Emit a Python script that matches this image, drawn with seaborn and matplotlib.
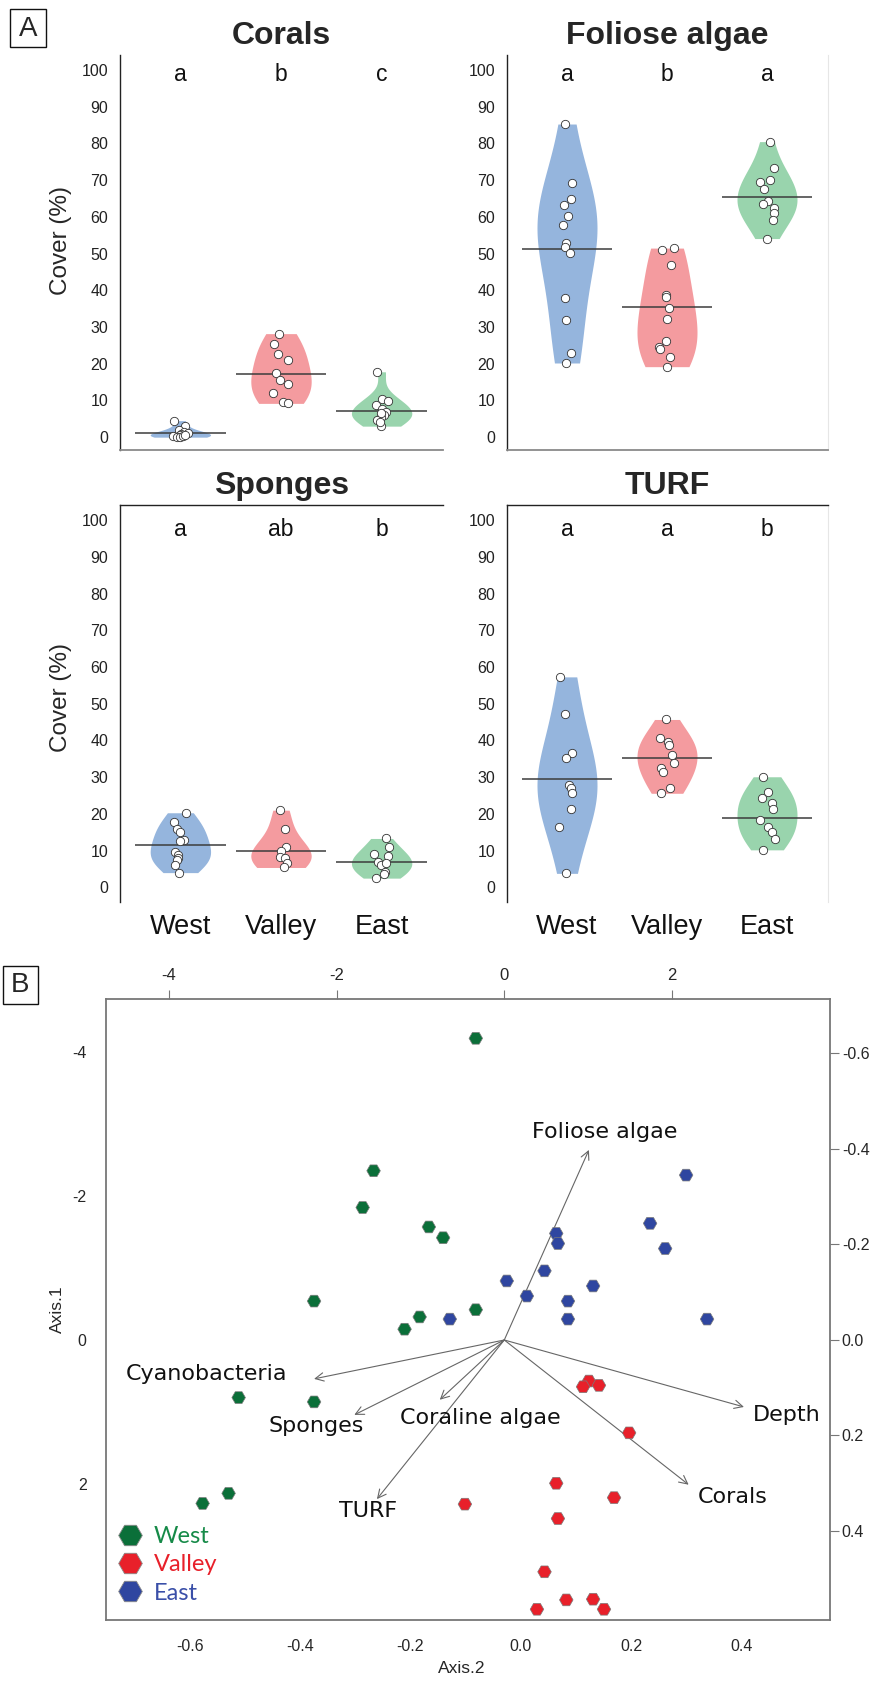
import numpy as np
import pandas as pd
import matplotlib.pyplot as plt
from matplotlib.lines import Line2D
from matplotlib.patches import Rectangle
from matplotlib.ticker import FormatStrFormatter
import seaborn as sns

# ---- panel A data (cover %) ----
sites = ['West', 'Valley', 'East']

corals_west = [4.5, 3.0, 2.0, 1.5, 1.0, 0.8, 0.5, 0.3, 0.0, 0.0, 0.2, 0.6]
corals_valley = [28.2, 25.3, 22.6, 21.0, 17.5, 15.5, 14.6, 11.9, 9.6, 9.2]
corals_east = [17.8, 10.5, 9.8, 8.7, 7.6, 6.9, 6.0, 5.4, 4.6, 3.0, 4.2, 6.5]
corals_mean = [1.2, 17.3, 7.1]
corals_letters = ['a', 'b', 'c']

foliose_west = [85.3, 69.1, 64.9, 63.2, 60.2, 57.8, 53.0, 51.9, 50.1, 38.0, 31.9, 22.8, 20.2]
foliose_valley = [51.5, 51.0, 47.0, 38.7, 38.2, 35.1, 32.1, 26.2, 24.6, 24.0, 21.7, 19.2]
foliose_east = [80.5, 73.2, 70.0, 69.5, 67.5, 64.3, 63.5, 62.3, 61.0, 59.1, 54.1]
foliose_mean = [51.2, 35.4, 65.3]
foliose_letters = ['a', 'b', 'a']

sponges_west = [20.3, 17.9, 16.0, 15.0, 12.9, 12.5, 9.7, 8.9, 7.9, 7.5, 6.1, 4.0]
sponges_valley = [21.0, 15.8, 11.0, 10.0, 8.3, 8.0, 6.5, 5.4]
sponges_east = [13.3, 11.0, 9.2, 8.5, 7.0, 6.1, 6.5, 4.3, 2.5, 3.5]
sponges_mean = [11.5, 10.0, 7.0]
sponges_letters = ['a', 'ab', 'b']

turf_west = [57.3, 47.2, 36.5, 35.3, 27.9, 27.0, 25.6, 21.2, 16.5, 3.8]
turf_valley = [45.7, 40.6, 39.5, 38.7, 36.0, 33.8, 32.4, 31.5, 27.0, 25.6]
turf_east = [30.1, 26.0, 24.2, 22.9, 21.2, 18.3, 16.5, 15.1, 13.1, 10.2]
turf_mean = [29.5, 35.1, 19.0]
turf_letters = ['a', 'a', 'b']

# ---- panel B data (ordination scores and vectors) ----
west_x = [-0.34, -1.56, -1.69, -0.90, -0.73, -2.27, -0.34, -1.01, -1.19, -3.17, -2.27, -3.29, -3.60]
west_y = [-4.19, -2.35, -1.84, -1.57, -1.42, -0.54, -0.42, -0.32, -0.15, 0.80, 0.86, 2.13, 2.27]
valley_x = [1.01, 0.94, 1.13, 1.49, 0.62, 1.31, -0.47, 0.64, 0.48, 0.74, 1.06, 0.39, 1.19]
valley_y = [0.57, 0.65, 0.63, 1.29, 1.99, 2.19, 2.28, 2.48, 3.22, 3.61, 3.60, 3.74, 3.74]
east_x = [0.03, 0.27, -0.65, 2.17, 1.74, 1.92, 0.62, 0.64, 0.48, 1.06, 0.76, 0.76, 2.42]
east_y = [-0.82, -0.61, -0.29, -2.29, -1.62, -1.27, -1.48, -1.34, -0.96, -0.75, -0.54, -0.29, -0.29]

vec_names = ['Foliose algae', 'Cyanobacteria', 'Sponges', 'Coraline algae', 'TURF', 'Depth', 'Corals']
vec_x = [1.01, -2.27, -1.79, -0.77, -1.52, 2.86, 2.20]
vec_y = [-2.64, 0.54, 1.04, 0.83, 2.21, 0.93, 2.01]
# where each vector label sits relative to its arrow tip
lab_dx = [0.19, -1.28, -0.45, 0.48, -0.10, 0.51, 0.53]
lab_dy = [-0.25, -0.07, 0.15, 0.25, 0.16, 0.11, 0.17]

sns.set_style('white')
plt.rcParams['font.family'] = ['Liberation Sans', 'DejaVu Sans']
plt.rcParams['axes.unicode_minus'] = False

violin_pal = {'West': '#95b5dd', 'Valley': '#f49b9f', 'East': '#99d4ad'}
pt_pal = {'West': '#0b6f39', 'Valley': '#e8202a', 'East': '#2f46a0'}
text_pal = ['#168a48', '#e8202a', '#3a4fa8']

W, H = 874, 1682
fig = plt.figure(figsize=(W / 100, H / 100), dpi=100)


def px_rect(l, t, r, b):
    return [l / W, 1 - b / H, (r - l) / W, (b - t) / H]


cover = {
    'Corals': [corals_west, corals_valley, corals_east],
    'Foliose algae': [foliose_west, foliose_valley, foliose_east],
    'Sponges': [sponges_west, sponges_valley, sponges_east],
    'TURF': [turf_west, turf_valley, turf_east],
}
rows = []
for grp, lists in cover.items():
    for site, vals in zip(sites, lists):
        for v in vals:
            rows.append((grp, site, v))
df = pd.DataFrame(rows, columns=['group', 'site', 'cover'])

panels = [
    ('Corals', corals_mean, corals_letters, px_rect(120, 55, 443, 450), 'top', 'left'),
    ('Foliose algae', foliose_mean, foliose_letters, px_rect(507, 55, 828, 450), 'top', 'right'),
    ('Sponges', sponges_mean, sponges_letters, px_rect(120, 505, 443, 902), 'bottom', 'left'),
    ('TURF', turf_mean, turf_letters, px_rect(507, 505, 828, 902), 'bottom', 'right'),
]

np.random.seed(7)
for name, means, letters, rect, row, col in panels:
    ax = fig.add_axes(rect)
    sub = df[df['group'] == name]
    sns.violinplot(data=sub, x='site', y='cover', hue='site', order=sites, hue_order=sites,
                   palette=violin_pal, cut=0, inner=None, density_norm='width', width=0.6,
                   linewidth=0, saturation=1, legend=False, bw_adjust=1.15, ax=ax)
    pos = np.arange(len(sites))
    ax.hlines(means, pos - 0.45, pos + 0.45, color='#3c3c3c', lw=1.1, zorder=3)
    sns.stripplot(data=sub, x='site', y='cover', order=sites, color='white', edgecolor='#333333',
                  linewidth=0.6, size=6, jitter=0.08, ax=ax, zorder=4)
    ax.set_xlim(-0.6, 2.61)
    if row == 'top':
        ax.set_ylim(-3.5, 104.1)
        ly = 97.0
    else:
        ax.set_ylim(-4.0, 104.1)
        ly = 95.6
    for i, l in enumerate(letters):
        ax.text(i, ly, l, ha='center', va='baseline', fontsize=16.5, color='#111')
    ax.set_yticks(range(0, 101, 10))
    ax.tick_params(axis='y', length=5.5, width=0.8, color='#777', labelsize=11.5, pad=3, labelcolor='#222')
    ax.set_title(name, fontsize=23, fontweight='bold', pad=8)
    ax.set_xlabel('')
    if col == 'left':
        ax.set_ylabel('Cover (%)', fontsize=17.5)
        ax.yaxis.set_label_coords(-0.149, 0.53 if row == 'top' else 0.514)
    else:
        ax.set_ylabel('')
    for s in ax.spines.values():
        s.set_visible(False)
    ax.spines['left'].set_visible(True)
    ax.spines['left'].set_color('#222')
    ax.spines['left'].set_linewidth(1.0)
    if row == 'top':
        ax.spines['bottom'].set_visible(True)
        ax.spines['bottom'].set_color('#8a8a8a')
        ax.spines['bottom'].set_linewidth(1.3)
        ax.tick_params(axis='x', length=0, labelbottom=False)
    else:
        ax.spines['top'].set_visible(True)
        ax.spines['top'].set_color('#222')
        ax.spines['top'].set_linewidth(1.0)
        ax.tick_params(axis='x', length=0, labelsize=19.5, pad=9, labelcolor='#111')
    if col == 'right':
        ax.spines['right'].set_visible(True)
        ax.spines['right'].set_color('#e6e6e6')
        ax.spines['right'].set_linewidth(0.8)

# ---- panel B ----
pts = pd.DataFrame({
    'x': west_x + valley_x + east_x,
    'y': west_y + valley_y + east_y,
    'site': ['West'] * len(west_x) + ['Valley'] * len(valley_x) + ['East'] * len(east_x),
})

axb = fig.add_axes(px_rect(106, 999, 830, 1620))
for vx, vy in zip(vec_x, vec_y):
    axb.annotate('', xy=(vx, vy), xytext=(0, 0),
                 arrowprops=dict(arrowstyle='->', color='#666', lw=0.8, shrinkA=0, shrinkB=0,
                                 mutation_scale=15), zorder=2)
for name, vx, vy, dx, dy in zip(vec_names, vec_x, vec_y, lab_dx, lab_dy):
    axb.text(vx + dx, vy + dy, name, ha='center', va='center', fontsize=16,
             family='DejaVu Sans', color='#111', zorder=5)
sns.scatterplot(data=pts, x='x', y='y', hue='site', hue_order=sites, palette=pt_pal, marker='H',
                s=95, edgecolor='#7a7a7a', linewidth=0.5, legend=False, ax=axb, zorder=3)
axb.set_xlim(-4.753, 3.887)
axb.set_ylim(3.889, -4.736)
axb.xaxis.tick_top()
axb.set_xticks([-4, -2, 0, 2])
axb.set_yticks([-4, -2, 0, 2])
axb.tick_params(axis='x', length=6.5, width=0.8, color='#777', labelsize=12, pad=5)
axb.tick_params(axis='y', length=7, width=0.8, color='#777', labelsize=11.5, pad=7)
axb.set_xlabel('')
axb.set_ylabel('Axis.1', fontsize=12.5)
axb.yaxis.set_label_coords(-0.0566, 0.5)
for s in axb.spines.values():
    s.set_color('#777')
    s.set_linewidth(1.3)

handles = [Line2D([], [], marker='H', ls='', ms=17, mfc=pt_pal[s], mec='#888', mew=0.6) for s in sites]
axb.legend(handles, sites, loc='center left', bbox_to_anchor=(0.0152, 0.0886), frameon=False,
           prop={'family': 'Lato', 'size': 17}, handlelength=1.1, handletextpad=0.45,
           labelspacing=0.3, borderpad=0, borderaxespad=0, labelcolor=text_pal)

axs = fig.add_axes(px_rect(106, 999, 830, 1620), facecolor='none')
axs.set_xlim(-0.7517, 0.5601)
axs.set_ylim(0.5864, -0.7141)
axs.set_xticks([-0.6, -0.4, -0.2, 0.0, 0.2, 0.4])
axs.set_yticks([-0.6, -0.4, -0.2, 0.0, 0.2, 0.4])
axs.xaxis.set_major_formatter(FormatStrFormatter('%.1f'))
axs.yaxis.set_major_formatter(FormatStrFormatter('%.1f'))
axs.yaxis.tick_right()
axs.tick_params(axis='x', length=0, labelsize=11.5, pad=14)
axs.tick_params(axis='y', length=6.5, width=0.8, color='#777', labelsize=11.5, pad=2)
axs.set_xlabel('Axis.2', fontsize=12.5)
axs.xaxis.set_label_coords(0.4917, -0.066)
for s in axs.spines.values():
    s.set_visible(False)

# panel letters
fig.add_artist(Rectangle((10 / W, 1 - 47.3 / H), 35.7 / W, 38 / H, transform=fig.transFigure,
                         fill=False, lw=1.0, ec='#111'))
fig.text(28 / W, 1 - 28.5 / H, 'A', ha='center', va='center', fontsize=20)
fig.add_artist(Rectangle((2.7 / W, 1 - 1004 / H), 35 / W, 38 / H, transform=fig.transFigure,
                         fill=False, lw=1.0, ec='#111'))
fig.text(20.2 / W, 1 - 985 / H, 'B', ha='center', va='center', fontsize=20)

fig.savefig('out.png', dpi=100)
